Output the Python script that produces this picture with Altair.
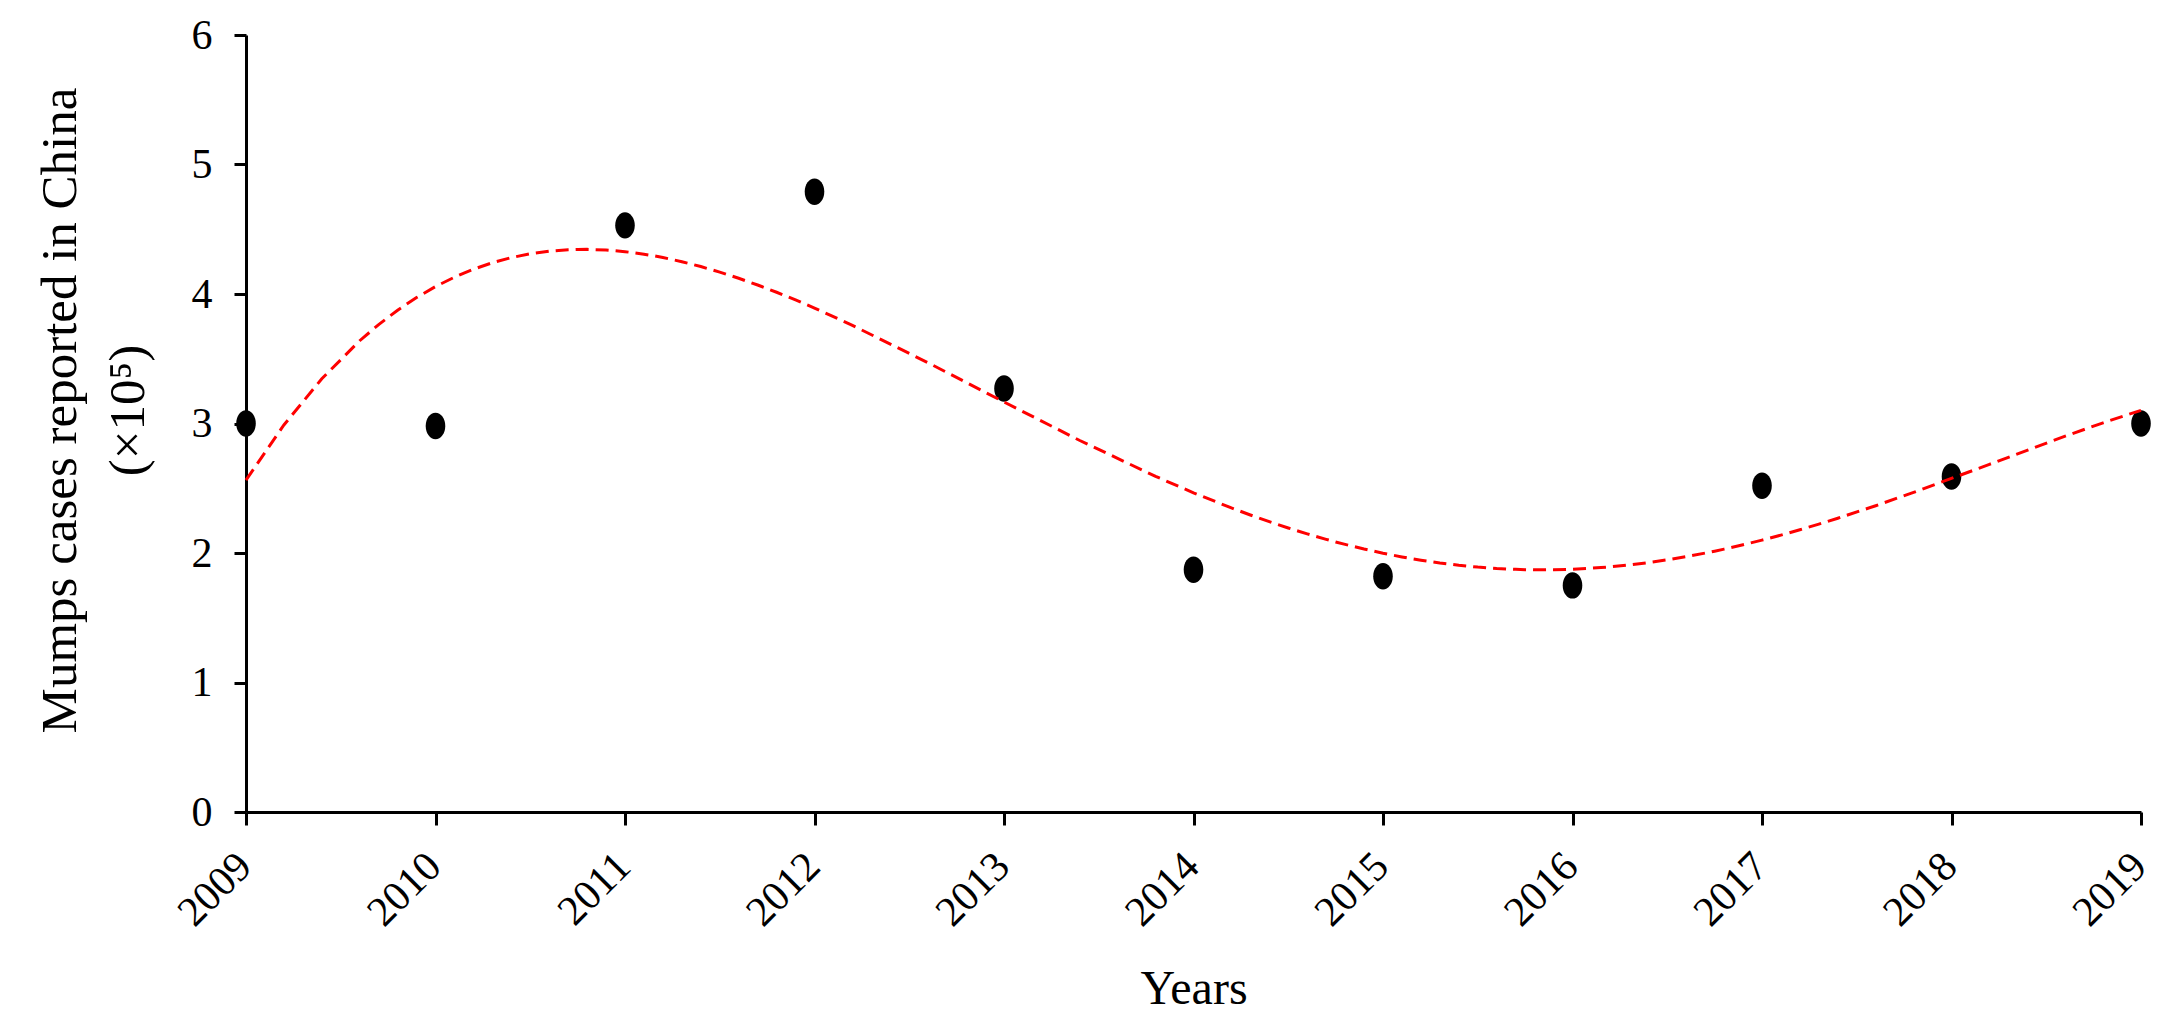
import altair as alt
import pandas as pd

years = [2009, 2010, 2011, 2012, 2013, 2014, 2015, 2016, 2017, 2018, 2019]
cases = [3.00, 2.98, 4.53, 4.79, 3.27, 1.87, 1.82, 1.75, 2.52, 2.59, 3.00]
y_ticks = [0, 1, 2, 3, 4, 5, 6]

df = pd.DataFrame({"year": years, "value": cases})

FONT = "Liberation Serif"

x_enc = alt.X(
    "year:Q",
    scale=alt.Scale(domain=[2009, 2019], nice=False, zero=False),
    axis=alt.Axis(
        values=years,
        format="d",
        title="Years",
        labelAngle=-45,
        labelAlign="right",
        labelBaseline="top",
        labelPadding=20,
        labelOffset=-16,
        labelFontSize=42,
        labelOverlap=False,
        labelBound=False,
        titleFontSize=48,
        titleFontWeight="normal",
        titleBaseline="alphabetic",
        titleY=191,
        tickSize=13,
        grid=False,
    ),
)
y_enc = alt.Y(
    "value:Q",
    scale=alt.Scale(domain=[0, 6], nice=False),
    axis=alt.Axis(
        values=y_ticks,
        title=["Mumps cases reported in China", "(\u00d710\u2075)"],
        labelFontSize=42,
        labelPadding=22,
        titleFontSize=51,
        titleFontWeight="normal",
        titleAngle=270,
        titleAlign="center",
        titleBaseline="alphabetic",
        titleLineHeight=68,
        titleX=-171,
        titleY=375,
        tickSize=12,
        grid=False,
    ),
)

ellipse = "M -0.74 0 A 0.74 1 0 1 0 0.74 0 A 0.74 1 0 1 0 -0.74 0 Z"

points = alt.Chart(df).mark_point(
    shape=ellipse, filled=True, color="black", size=700, opacity=1
).encode(x=x_enc, y=y_enc)

trend = (
    alt.Chart(df)
    .transform_regression("year", "value", method="poly", order=4, extent=[2009, 2019])
    .mark_line(color="#ff0000", strokeDash=[13, 7], strokeWidth=3)
    .encode(x=x_enc, y=y_enc)
)

chart = (
    alt.layer(points, trend)
    .properties(
        width=1895,
        height=777,
        autosize=alt.AutoSizeParams(type="none"),
        padding={"left": 238, "top": 27, "right": 16, "bottom": 200},
    )
    .configure_view(stroke=None)
    .configure_axis(
        labelFont=FONT,
        titleFont=FONT,
        labelColor="black",
        titleColor="black",
        domainColor="black",
        tickColor="black",
        domainWidth=3,
        tickWidth=3,
    )
)

chart.save("out.html", embed_options={"renderer": "svg", "actions": False})
